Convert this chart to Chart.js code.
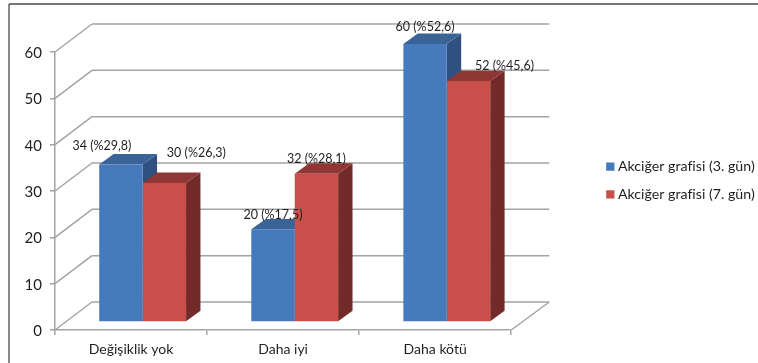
<!DOCTYPE html>
<html lang="tr">
<head>
<meta charset="utf-8">
<title>Akciğer grafisi</title>
<script src="https://cdn.jsdelivr.net/npm/chart.js@4"></script>
<style>
  html, body { margin: 0; padding: 0; background: #fff; }
  #box { position: relative; width: 758px; height: 363px; }
</style>
</head>
<body>
<div id="box"><canvas id="c" width="758" height="363"></canvas></div>
<script>
const categories = ['Değişiklik yok', 'Daha iyi', 'Daha kötü'];
const seriesNames = ['Akciğer grafisi (3. gün)', 'Akciğer grafisi (7. gün)'];
const day3Values = [34, 20, 60];
const day7Values = [30, 32, 52];
const day3Percents = ['29,8', '17,5', '52,6'];
const day7Percents = ['26,3', '28,1', '45,6'];
const yTicks = [0, 10, 20, 30, 40, 50, 60];

// Label nudges relative to the top centre of each bar's front face.
const labelNudge = [
  [[-19, -18.5], [0, -14.5], [0, -17.5]],
  [[32, -30], [0, -15], [36, -15]]
];

const GRID = '#a3a3a3';
const INK = '#1f1f1f';
const WALL = { dx: 37, dy: 28 };      // receding offset of the back wall
const BAR_DEPTH = { dx: 14.4, dy: 10.4 };
const BAR_SHIFT = { dx: 11.6, dy: -8 }; // bars stand inside the floor, not on its front edge
const LEGEND_LEFT = 596.3;
const LEGEND_LIFT = 27;
const FACES = [
  { front: '#4779bd', top: '#3a6497', side: '#2f5080' },
  { front: '#c94f4b', top: '#8f3735', side: '#722b29' }
];

function line(ctx, x1, y1, x2, y2) {
  ctx.beginPath();
  ctx.moveTo(x1, y1);
  ctx.lineTo(x2, y2);
  ctx.stroke();
}

function poly(ctx, pts, fill) {
  ctx.fillStyle = fill;
  ctx.beginPath();
  pts.forEach((p, i) => (i ? ctx.lineTo(p[0], p[1]) : ctx.moveTo(p[0], p[1])));
  ctx.closePath();
  ctx.fill();
}

const frame3d = {
  id: 'frame3d',
  afterLayout(chart) {
    // park the legend beside the upper half of the plot
    const lg = chart.legend;
    const w = lg.right - lg.left;
    lg.left = LEGEND_LEFT;
    lg.right = LEGEND_LEFT + w;
    lg.top -= LEGEND_LIFT;
    lg.bottom -= LEGEND_LIFT;
  },
  beforeDraw(chart) {
    // outer rule along the top and left of the figure
    const ctx = chart.ctx;
    ctx.save();
    ctx.strokeStyle = '#4a4a4a';
    ctx.lineWidth = 1.3;
    line(ctx, 9, 4, 758, 4);
    line(ctx, 9, 4, 9, 363);
    ctx.restore();
  },
  beforeDatasetsDraw(chart) {
    const ctx = chart.ctx;
    const { left, right } = chart.chartArea;
    const y = chart.scales.y;

    // wall and floor rules, one per value tick
    ctx.save();
    ctx.strokeStyle = GRID;
    ctx.lineWidth = 1.5;
    yTicks.forEach(v => {
      const py = y.getPixelForValue(v);
      line(ctx, left, py, left + WALL.dx, py - WALL.dy);
      line(ctx, left + WALL.dx, py - WALL.dy, right + WALL.dx + 1, py - WALL.dy);
    });
    const floorY = y.getPixelForValue(0);
    line(ctx, right, floorY, right + WALL.dx + 1, floorY - WALL.dy);
    ctx.restore();

    // side and top faces of every bar, back to front
    ctx.save();
    ctx.translate(BAR_SHIFT.dx, BAR_SHIFT.dy);
    const d = BAR_DEPTH;
    chart.data.datasets.forEach((ds, di) => {
      chart.getDatasetMeta(di).data.forEach(bar => {
        const p = bar.getProps(['x', 'y', 'base', 'width']);
        const l = p.x - p.width / 2, r = p.x + p.width / 2;
        poly(ctx, [[r, p.y], [r + d.dx, p.y - d.dy], [r + d.dx, p.base - d.dy], [r, p.base]], FACES[di].side);
        poly(ctx, [[l, p.y], [l + d.dx, p.y - d.dy], [r + d.dx, p.y - d.dy], [r, p.y]], FACES[di].top);
      });
    });
    ctx.restore();

    // the front faces are drawn by the library inside this same shift
    ctx.save();
    ctx.translate(BAR_SHIFT.dx, BAR_SHIFT.dy);
  },
  afterDatasetsDraw(chart) {
    const ctx = chart.ctx;
    ctx.restore();

    const texts = [day3Percents, day7Percents];
    ctx.save();
    ctx.font = '12.5px Lato';
    ctx.fillStyle = INK;
    ctx.textAlign = 'center';
    ctx.textBaseline = 'middle';
    chart.data.datasets.forEach((ds, di) => {
      chart.getDatasetMeta(di).data.forEach((bar, i) => {
        const p = bar.getProps(['x', 'y']);
        const n = labelNudge[di][i];
        ctx.fillText(`${ds.data[i]} (%${texts[di][i]})`,
          p.x + BAR_SHIFT.dx + n[0], p.y + BAR_SHIFT.dy + n[1]);
      });
    });
    ctx.restore();
  }
};

new Chart(document.getElementById('c'), {
  type: 'bar',
  data: {
    labels: categories,
    datasets: [
      { label: seriesNames[0], data: day3Values, backgroundColor: FACES[0].front, clip: false },
      { label: seriesNames[1], data: day7Values, backgroundColor: FACES[1].front, clip: false }
    ]
  },
  plugins: [frame3d],
  options: {
    responsive: false,
    animation: false,
    layout: { padding: { left: 0, top: 52, right: 3, bottom: 0 } },
    datasets: { bar: { categoryPercentage: 0.571, barPercentage: 1 } },
    scales: {
      x: {
        grid: { display: true, drawOnChartArea: false, color: GRID, lineWidth: 1.5, tickLength: 5 },
        border: { color: GRID, width: 1.5 },
        ticks: { color: INK, font: { family: 'Lato', size: 14 }, padding: 6, maxRotation: 0 },
        afterFit: s => { s.height = 33; }
      },
      y: {
        min: 0,
        max: 60,
        grid: { display: true, drawOnChartArea: false, color: GRID, lineWidth: 1.5, tickLength: 5 },
        border: { color: GRID, width: 1.5 },
        ticks: { color: INK, font: { family: 'Lato', size: 15 }, padding: 8, stepSize: 10, labelOffset: 1 },
        afterFit: s => { s.width = 55; }
      },
      // reserves the gutter between the plot and the legend
      gutter: {
        type: 'linear',
        position: 'right',
        display: false,
        afterFit: s => { s.width = 75.4; }
      }
    },
    plugins: {
      tooltip: { enabled: false },
      legend: {
        position: 'right',
        labels: {
          boxWidth: 1,
          boxHeight: 1,
          padding: 13.5,
          color: INK,
          font: { family: 'Lato', size: 14.2 },
          // a thick outline around a tiny box keeps the swatch snug against its text
          generateLabels: chart => chart.data.datasets.map((ds, i) => ({
            text: ds.label,
            fillStyle: ds.backgroundColor,
            strokeStyle: ds.backgroundColor,
            lineWidth: 7.3,
            hidden: false,
            datasetIndex: i,
            fontColor: INK
          }))
        }
      }
    }
  }
});
</script>
</body>
</html>
